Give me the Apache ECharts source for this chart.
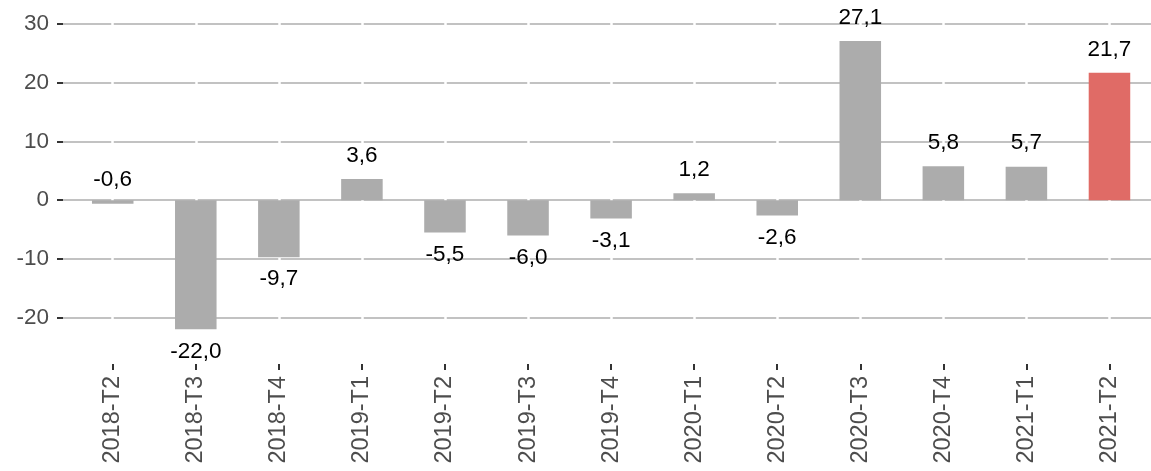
<!DOCTYPE html>
<html>
<head>
<meta charset="utf-8">
<script src="https://cdn.jsdelivr.net/npm/echarts@6/dist/echarts.min.js"></script>
<style>
html,body{margin:0;padding:0;background:#fff;}
#chart{width:1151px;height:471px;}
</style>
</head>
<body>
<div id="chart"></div>
<script>
// ---- data ----
const categories = ['2018-T2','2018-T3','2018-T4','2019-T1','2019-T2','2019-T3','2019-T4','2020-T1','2020-T2','2020-T3','2020-T4','2021-T1','2021-T2'];
const values = [-0.6, -22.0, -9.7, 3.6, -5.5, -6.0, -3.1, 1.2, -2.6, 27.1, 5.8, 5.7, 21.7];
const highlightCategory = '2021-T2';
const yTicks = [-20, -10, 0, 10, 20, 30];

// ---- styles ----
const FONT = 'Liberation Sans, Arial, sans-serif';
const GREY_BAR = '#acacac';
const RED_BAR = '#e06b66';
const Y_MIN = -27.9, Y_MAX = 34.1;

const fmt = v => v.toFixed(1).replace('.', ',');

const barData = values.map((v, i) => {
  let pos, dist;
  if (v >= 0) { pos = 'top'; dist = 12; }
  else if (v > -1) { pos = 'top'; dist = 9; }
  else { pos = 'bottom'; dist = 10.5; }
  return {
    value: v,
    itemStyle: { color: categories[i] === highlightCategory ? RED_BAR : GREY_BAR },
    label: { position: pos, distance: dist }
  };
});

const chart = echarts.init(document.getElementById('chart'), null, { renderer: 'canvas' });
chart.setOption({
  animation: false,
  backgroundColor: '#ffffff',
  grid: [
    { left: 63, top: 0, width: 1088, height: 364, containLabel: false },
    { left: 71.2, top: 0, width: 1082.25, height: 364, containLabel: false }
  ],
  xAxis: [
    { type: 'value', gridIndex: 0, show: false, min: 0, max: 1 },
    {
      type: 'category', gridIndex: 1, data: categories, position: 'bottom',
      axisLine: { show: false, onZero: false },
      axisTick: { show: true, interval: 0, alignWithLabel: true, length: 6, lineStyle: { color: '#333333', width: 2 } },
      splitLine: { show: false },
      axisLabel: {
        rotate: 90, margin: 12, fontFamily: FONT, fontSize: 23.5, color: '#4d4d4d', interval: 0
      }
    }
  ],
  yAxis: [
    {
      type: 'value', gridIndex: 0, min: Y_MIN, max: Y_MAX,
      axisLine: { show: false },
      axisTick: { show: true, length: 6, customValues: yTicks, lineStyle: { color: '#333333', width: 2 } },
      axisLabel: { customValues: yTicks, margin: 14, fontFamily: FONT, fontSize: 22.5, color: '#4d4d4d' },
      splitLine: { show: true, lineStyle: { color: '#c2c2c2', width: 2 } }
    },
    { type: 'value', gridIndex: 1, min: Y_MIN, max: Y_MAX, show: false, splitLine: { show: false } }
  ],
  series: [
    {
      type: 'bar', xAxisIndex: 1, yAxisIndex: 1, z: 2,
      barWidth: '50%',
      data: barData,
      label: {
        show: true, fontFamily: FONT, fontSize: 22.5, color: '#000000',
        formatter: p => fmt(p.value)
      },
      markLine: {
        z: 1, silent: true, symbol: 'none', animation: false,
        label: { show: false },
        lineStyle: { color: '#ffffff', width: 2.5, type: 'solid' },
        data: categories.map(c => ({ xAxis: c }))
      }
    }
  ]
});
</script>
</body>
</html>
